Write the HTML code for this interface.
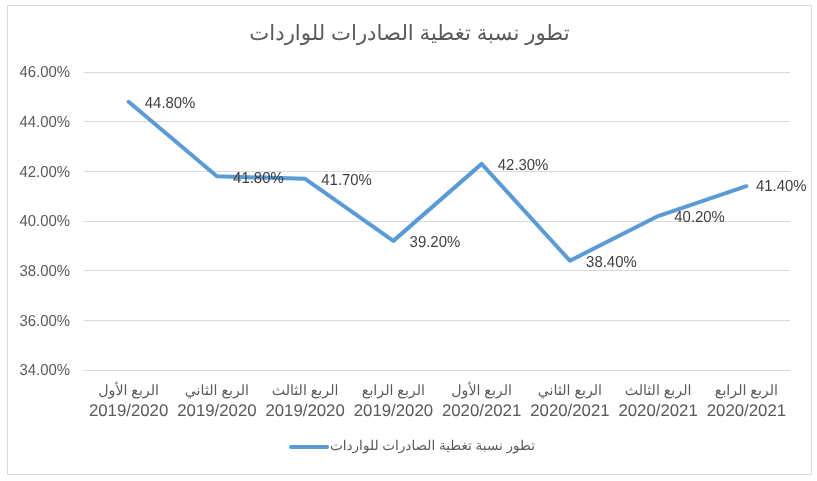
<!DOCTYPE html>
<html><head><meta charset="utf-8"><style>
html,body{margin:0;padding:0;background:#fff;width:817px;height:481px;overflow:hidden}
svg{display:block;will-change:transform}
text{font-family:'Liberation Sans',sans-serif;text-rendering:geometricPrecision}
</style></head><body>
<svg width="817" height="481" viewBox="0 0 817 481">
<rect x="0" y="0" width="817" height="481" fill="#fff"/>
<rect x="7.5" y="5.5" width="804" height="469" fill="#fff" stroke="#d9d9d9" stroke-width="1"/>

<line x1="84" y1="72.5" x2="790" y2="72.5" stroke="#d9d9d9" stroke-width="1"/>
<line x1="84" y1="121.5" x2="790" y2="121.5" stroke="#d9d9d9" stroke-width="1"/>
<line x1="84" y1="171.5" x2="790" y2="171.5" stroke="#d9d9d9" stroke-width="1"/>
<line x1="84" y1="221.5" x2="790" y2="221.5" stroke="#d9d9d9" stroke-width="1"/>
<line x1="84" y1="270.5" x2="790" y2="270.5" stroke="#d9d9d9" stroke-width="1"/>
<line x1="84" y1="320.5" x2="790" y2="320.5" stroke="#d9d9d9" stroke-width="1"/>
<line x1="84" y1="370.5" x2="790" y2="370.5" stroke="#d9d9d9" stroke-width="1"/>
<text x="70" y="77.3" text-anchor="end" font-size="15.9" fill="#595959" textLength="50.5" lengthAdjust="spacingAndGlyphs">46.00%</text>
<text x="70" y="127.0" text-anchor="end" font-size="15.9" fill="#595959" textLength="50.5" lengthAdjust="spacingAndGlyphs">44.00%</text>
<text x="70" y="176.6" text-anchor="end" font-size="15.9" fill="#595959" textLength="50.5" lengthAdjust="spacingAndGlyphs">42.00%</text>
<text x="70" y="226.3" text-anchor="end" font-size="15.9" fill="#595959" textLength="50.5" lengthAdjust="spacingAndGlyphs">40.00%</text>
<text x="70" y="276.0" text-anchor="end" font-size="15.9" fill="#595959" textLength="50.5" lengthAdjust="spacingAndGlyphs">38.00%</text>
<text x="70" y="325.6" text-anchor="end" font-size="15.9" fill="#595959" textLength="50.5" lengthAdjust="spacingAndGlyphs">36.00%</text>
<text x="70" y="375.3" text-anchor="end" font-size="15.9" fill="#595959" textLength="50.5" lengthAdjust="spacingAndGlyphs">34.00%</text>
<text x="409.5" y="39.7" text-anchor="middle" font-size="21.2" fill="#595959">تطور نسبة تغطية الصادرات للواردات</text>
<path d="M128.62,101.80 L216.88,176.30 L305.12,178.78 L393.38,240.87 L481.62,163.88 L569.88,260.73 L658.12,216.03 L746.38,186.23" fill="none" stroke="#5b9bd5" stroke-width="4" stroke-linejoin="round" stroke-linecap="round"/>
<text x="144.8" y="108.2" font-size="15.9" fill="#404040" textLength="50.6" lengthAdjust="spacingAndGlyphs">44.80%</text>
<text x="233.1" y="182.7" font-size="15.9" fill="#404040" textLength="50.6" lengthAdjust="spacingAndGlyphs">41.80%</text>
<text x="321.3" y="185.2" font-size="15.9" fill="#404040" textLength="50.6" lengthAdjust="spacingAndGlyphs">41.70%</text>
<text x="409.6" y="247.3" font-size="15.9" fill="#404040" textLength="50.6" lengthAdjust="spacingAndGlyphs">39.20%</text>
<text x="497.8" y="170.3" font-size="15.9" fill="#404040" textLength="50.6" lengthAdjust="spacingAndGlyphs">42.30%</text>
<text x="586.1" y="267.1" font-size="15.9" fill="#404040" textLength="50.6" lengthAdjust="spacingAndGlyphs">38.40%</text>
<text x="674.3" y="222.4" font-size="15.9" fill="#404040" textLength="50.6" lengthAdjust="spacingAndGlyphs">40.20%</text>
<text x="756.0" y="191.2" font-size="15.9" fill="#404040" textLength="50.6" lengthAdjust="spacingAndGlyphs">41.40%</text>
<text x="128.6" y="395" text-anchor="middle" font-size="14.2" fill="#595959">الربع الأول</text>
<text x="128.6" y="415.8" text-anchor="middle" font-size="16.8" fill="#595959">2019/2020</text>
<text x="216.9" y="395" text-anchor="middle" font-size="14.2" fill="#595959">الربع الثاني</text>
<text x="216.9" y="415.8" text-anchor="middle" font-size="16.8" fill="#595959">2019/2020</text>
<text x="305.1" y="395" text-anchor="middle" font-size="14.2" fill="#595959">الربع الثالث</text>
<text x="305.1" y="415.8" text-anchor="middle" font-size="16.8" fill="#595959">2019/2020</text>
<text x="393.4" y="395" text-anchor="middle" font-size="14.2" fill="#595959">الربع الرابع</text>
<text x="393.4" y="415.8" text-anchor="middle" font-size="16.8" fill="#595959">2019/2020</text>
<text x="481.6" y="395" text-anchor="middle" font-size="14.2" fill="#595959">الربع الأول</text>
<text x="481.6" y="415.8" text-anchor="middle" font-size="16.8" fill="#595959">2020/2021</text>
<text x="569.9" y="395" text-anchor="middle" font-size="14.2" fill="#595959">الربع الثاني</text>
<text x="569.9" y="415.8" text-anchor="middle" font-size="16.8" fill="#595959">2020/2021</text>
<text x="658.1" y="395" text-anchor="middle" font-size="14.2" fill="#595959">الربع الثالث</text>
<text x="658.1" y="415.8" text-anchor="middle" font-size="16.8" fill="#595959">2020/2021</text>
<text x="746.4" y="395" text-anchor="middle" font-size="14.2" fill="#595959">الربع الرابع</text>
<text x="746.4" y="415.8" text-anchor="middle" font-size="16.8" fill="#595959">2020/2021</text>
<line x1="291" y1="447" x2="327" y2="447" stroke="#5b9bd5" stroke-width="4" stroke-linecap="round"/>
<text x="535" y="449.5" text-anchor="end" font-size="13.5" fill="#595959" textLength="205" lengthAdjust="spacingAndGlyphs">تطور نسبة تغطية الصادرات للواردات</text>
</svg></body></html>
